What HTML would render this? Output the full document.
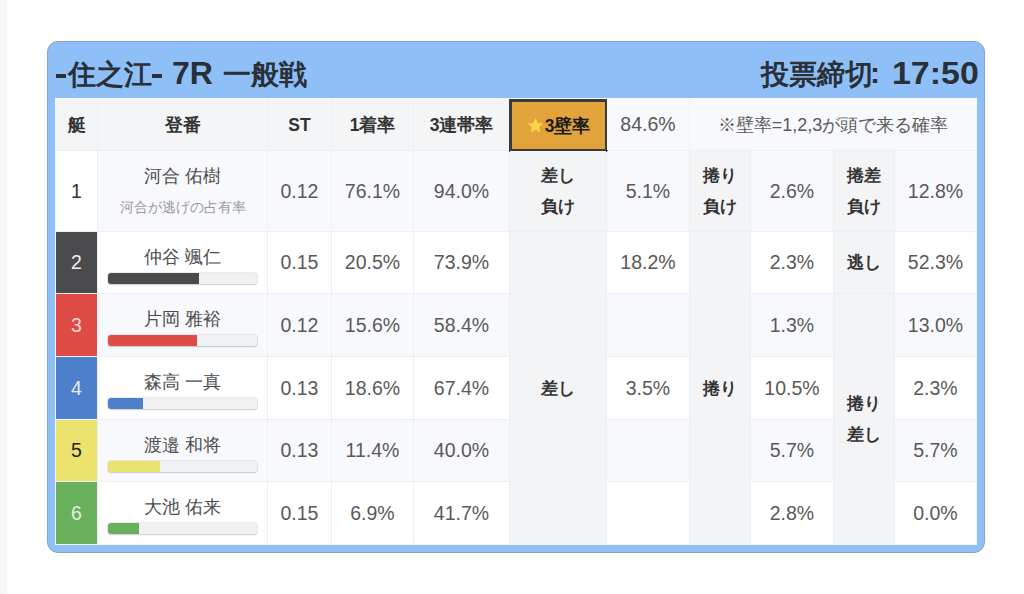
<!DOCTYPE html>
<html><head><meta charset="utf-8">
<style>
*{box-sizing:border-box;margin:0;padding:0}
html,body{width:1024px;height:594px;overflow:hidden;background:#fff;font-family:"Liberation Sans",sans-serif;color:#444}
#strip{position:absolute;left:0;top:0;width:8px;height:594px;background:linear-gradient(90deg,#f3f5f7 0,#f3f5f7 6px,#fafbfc 7px,#fff 8px)}
#card{position:absolute;left:47px;top:41px;width:938px;height:512px;background:#8ec0f7;border:1px solid #86a3c4;border-radius:11px}
.ttl{position:absolute;top:57px;height:34px;line-height:34px;font-size:28px;font-weight:bold;color:#2a3038;white-space:nowrap}
#tbl{position:absolute;left:55px;top:98px;width:922px;height:447px;background:#edf0f2;border:1px solid #f5f7fa}
.c{position:absolute;display:flex;flex-direction:column;align-items:center;justify-content:center;text-align:center;white-space:nowrap}
.w{background:#fff}.s{background:#f8f9fc}.g{background:#f3f4f6}.h{background:#f4f5f7}
.b{font-weight:bold;color:#333;font-size:17.5px;padding-top:1px}
.n{font-size:19.5px;color:#595959}
.lb{font-weight:bold;color:#333;font-size:17px;line-height:31px}
.nm{font-size:18px;color:#4d4d4d;line-height:20px;padding-top:1px}
.sub{font-size:14.2px;color:#999;line-height:20px;margin-top:11px}
.nmc{justify-content:flex-start}
.nmc .nm{margin-top:14px}
.bar{position:absolute;left:10px;top:41px;width:149px;height:11px;border-radius:3px;background:#f0f1f3;box-shadow:0 0 0 1px rgba(0,0,0,.07),0 1px 2px rgba(0,0,0,.14);overflow:hidden}
.bar i{display:block;height:100%}
</style></head><body>
<div id="strip"></div>
<div id="card"></div>
<div style="position:absolute;left:56px;top:74px;width:10px;height:3.6px;background:#2a3038"></div>
<div class="ttl" style="left:68px;top:58px;font-size:28px">住之江</div>
<div style="position:absolute;left:152px;top:74px;width:10px;height:3.6px;background:#2a3038"></div>
<div class="ttl" style="left:172px;top:56px;font-size:32px">7R</div>
<div class="ttl" style="left:223px;top:58px;font-size:28px">一般戦</div>
<div class="ttl" style="left:761px;top:58px;font-size:28px">投票締切</div>
<div class="ttl" style="left:870px;top:56px;font-size:30px">:</div>
<div class="ttl" style="left:892px;top:56px;font-size:32px;transform:scaleX(1.06);transform-origin:0 0">17:50</div>

<div id="tbl"></div>
<div class="c h b" style="left:56px;top:99px;width:41px;height:51px;">艇</div>
<div class="c h b" style="left:98px;top:99px;width:169px;height:51px;">登番</div>
<div class="c h b" style="left:268px;top:99px;width:63px;height:51px;">ST</div>
<div class="c h b" style="left:332px;top:99px;width:81px;height:51px;">1着率</div>
<div class="c h b" style="left:414px;top:99px;width:95px;height:51px;">3連帯率</div>
<div class="c b" style="left:509px;top:99px;width:99px;height:53px;background:#e3a33b;border:3px solid #3d3b38;color:#1a1a1a"><span style="display:flex;align-items:center"><svg width="17" height="17" viewBox="0 0 24 24" style="margin-right:1px;position:relative;top:-1px"><path d="M12 1.5l3.1 7.2 7.8.6-5.9 5.1 1.8 7.6L12 18l-6.8 4 1.8-7.6L1.1 9.3l7.8-.6z" fill="#f9d548"/></svg>3壁率</span></div>
<div class="c s n" style="left:607px;top:99px;width:82px;height:51px;">84.6%</div>
<div class="c s n" style="left:690px;top:99px;width:286px;height:51px;font-size:18px">※壁率=1,2,3が頭で来る確率</div>
<div class="c n" style="left:56px;top:151px;width:41px;height:80px;background:#ffffff;color:#333">1</div>
<div class="c s" style="left:98px;top:151px;width:169px;height:80px;"><div class="nm">河合 佑樹</div><div class="sub">河合が逃げの占有率</div></div>
<div class="c s n" style="left:268px;top:151px;width:63px;height:80px;">0.12</div>
<div class="c s n" style="left:332px;top:151px;width:81px;height:80px;">76.1%</div>
<div class="c s n" style="left:414px;top:151px;width:95px;height:80px;">94.0%</div>
<div class="c s n" style="left:607px;top:151px;width:82px;height:80px;">5.1%</div>
<div class="c s n" style="left:751px;top:151px;width:82px;height:80px;">2.6%</div>
<div class="c s n" style="left:895px;top:151px;width:81px;height:80px;">12.8%</div>
<div class="c n" style="left:56px;top:232px;width:41px;height:61px;background:#4b4b4d;color:#eee">2</div>
<div class="c w nmc" style="left:98px;top:232px;width:169px;height:61px;"><div class="nm">仲谷 颯仁</div><div class="bar"><i style="width:91px;background:#4b4b4d"></i></div></div>
<div class="c w n" style="left:268px;top:232px;width:63px;height:61px;">0.15</div>
<div class="c w n" style="left:332px;top:232px;width:81px;height:61px;">20.5%</div>
<div class="c w n" style="left:414px;top:232px;width:95px;height:61px;">73.9%</div>
<div class="c w n" style="left:607px;top:232px;width:82px;height:61px;">18.2%</div>
<div class="c w n" style="left:751px;top:232px;width:82px;height:61px;">2.3%</div>
<div class="c w n" style="left:895px;top:232px;width:81px;height:61px;">52.3%</div>
<div class="c n" style="left:56px;top:294px;width:41px;height:62px;background:#df4c45;color:#fbd9d6">3</div>
<div class="c s nmc" style="left:98px;top:294px;width:169px;height:62px;"><div class="nm">片岡 雅裕</div><div class="bar"><i style="width:89px;background:#df4c45"></i></div></div>
<div class="c s n" style="left:268px;top:294px;width:63px;height:62px;">0.12</div>
<div class="c s n" style="left:332px;top:294px;width:81px;height:62px;">15.6%</div>
<div class="c s n" style="left:414px;top:294px;width:95px;height:62px;">58.4%</div>
<div class="c s n" style="left:607px;top:294px;width:82px;height:62px;"></div>
<div class="c s n" style="left:751px;top:294px;width:82px;height:62px;">1.3%</div>
<div class="c s n" style="left:895px;top:294px;width:81px;height:62px;">13.0%</div>
<div class="c n" style="left:56px;top:357px;width:41px;height:62px;background:#4d7fcb;color:#e6eefa">4</div>
<div class="c w nmc" style="left:98px;top:357px;width:169px;height:62px;"><div class="nm">森高 一真</div><div class="bar"><i style="width:35px;background:#4d7fcb"></i></div></div>
<div class="c w n" style="left:268px;top:357px;width:63px;height:62px;">0.13</div>
<div class="c w n" style="left:332px;top:357px;width:81px;height:62px;">18.6%</div>
<div class="c w n" style="left:414px;top:357px;width:95px;height:62px;">67.4%</div>
<div class="c w n" style="left:607px;top:357px;width:82px;height:62px;">3.5%</div>
<div class="c w n" style="left:751px;top:357px;width:82px;height:62px;">10.5%</div>
<div class="c w n" style="left:895px;top:357px;width:81px;height:62px;">2.3%</div>
<div class="c n" style="left:56px;top:420px;width:41px;height:61px;background:#ebe36e;color:#222">5</div>
<div class="c s nmc" style="left:98px;top:420px;width:169px;height:61px;"><div class="nm">渡邉 和将</div><div class="bar"><i style="width:52px;background:#ebe36e"></i></div></div>
<div class="c s n" style="left:268px;top:420px;width:63px;height:61px;">0.13</div>
<div class="c s n" style="left:332px;top:420px;width:81px;height:61px;">11.4%</div>
<div class="c s n" style="left:414px;top:420px;width:95px;height:61px;">40.0%</div>
<div class="c s n" style="left:607px;top:420px;width:82px;height:61px;"></div>
<div class="c s n" style="left:751px;top:420px;width:82px;height:61px;">5.7%</div>
<div class="c s n" style="left:895px;top:420px;width:81px;height:61px;">5.7%</div>
<div class="c n" style="left:56px;top:482px;width:41px;height:62px;background:#69b05c;color:#def5d8">6</div>
<div class="c w nmc" style="left:98px;top:482px;width:169px;height:62px;"><div class="nm">大池 佑来</div><div class="bar"><i style="width:31px;background:#69b05c"></i></div></div>
<div class="c w n" style="left:268px;top:482px;width:63px;height:62px;">0.15</div>
<div class="c w n" style="left:332px;top:482px;width:81px;height:62px;">6.9%</div>
<div class="c w n" style="left:414px;top:482px;width:95px;height:62px;">41.7%</div>
<div class="c w n" style="left:607px;top:482px;width:82px;height:62px;"></div>
<div class="c w n" style="left:751px;top:482px;width:82px;height:62px;">2.8%</div>
<div class="c w n" style="left:895px;top:482px;width:81px;height:62px;">0.0%</div>
<div class="c g lb" style="left:510px;top:151px;width:96px;height:80px;">差し<br>負け</div>
<div class="c g lb" style="left:510px;top:232px;width:96px;height:312px;">差し</div>
<div class="c g lb" style="left:690px;top:151px;width:60px;height:80px;">捲り<br>負け</div>
<div class="c g lb" style="left:690px;top:232px;width:60px;height:312px;">捲り</div>
<div class="c g lb" style="left:834px;top:151px;width:60px;height:80px;">捲差<br>負け</div>
<div class="c g lb" style="left:834px;top:232px;width:60px;height:61px;">逃し</div>
<div class="c g lb" style="left:834px;top:294px;width:60px;height:250px;">捲り<br>差し</div>

</body></html>
